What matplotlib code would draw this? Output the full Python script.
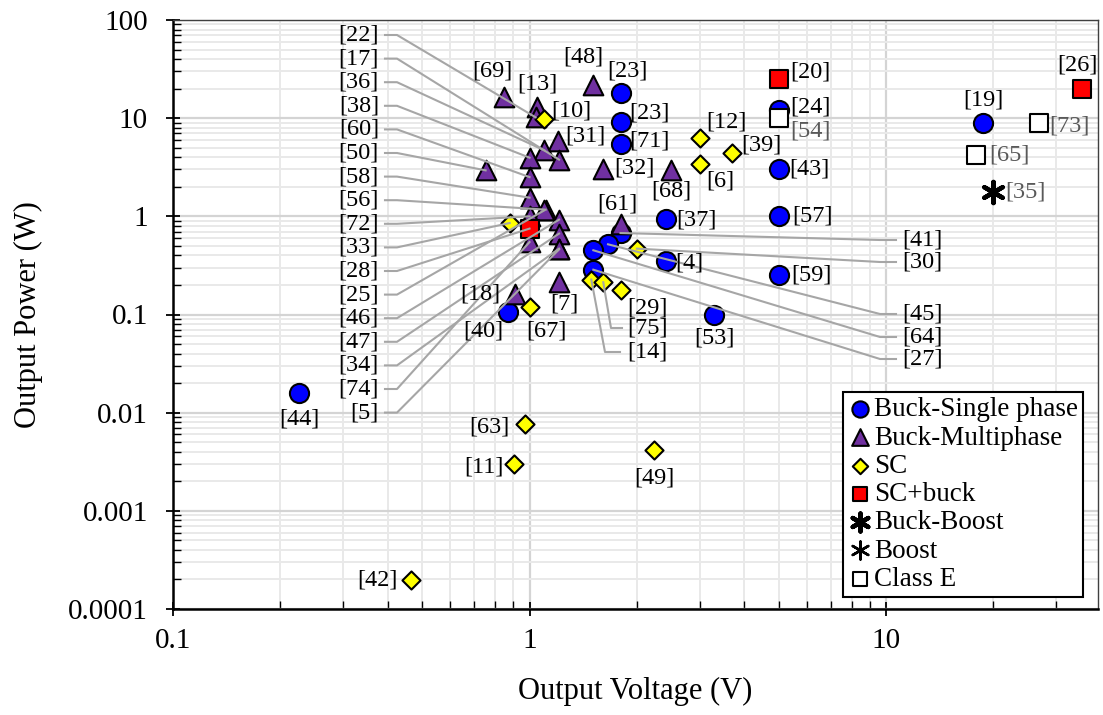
import numpy as np
import matplotlib.pyplot as plt

plt.rcParams['font.family'] = ['Liberation Serif', 'DejaVu Serif']

# ---- data (output voltage V, output power W, reference tag) ----
single_v = [0.226, 0.868, 1.81, 1.81, 1.81, 2.41, 2.41, 3.30, 5.0, 5.0, 5.0, 5.0, 18.7, 1.80, 1.66, 1.51, 1.51]
single_p = [0.0158, 0.106, 18.0, 9.1, 5.5, 0.948, 0.348, 0.0997, 12.0, 3.06, 1.0, 0.25, 9.0, 0.676, 0.519, 0.451, 0.286]
single_ref = ['[44]', '[40]', '[23]', '[23]', '[71]', '[37]', '[4]', '[53]', '[24]', '[43]', '[57]', '[59]', '[19]',
              '[41]', '[45]', '[64]', '[27]']

multi_v = [0.847, 1.05, 1.04, 1.505, 1.20, 1.10, 1.21, 1.0, 0.753, 1.0, 1.0, 1.11, 1.10, 1.0, 1.21, 1.21, 1.21, 1.21,
           1.0, 1.21, 0.908, 1.61, 2.50, 1.80]
multi_p = [16.4, 13.0, 10.2, 21.6, 5.85, 4.7, 3.78, 3.96, 2.94, 2.51, 1.55, 1.17, 1.15, 1.0, 0.925, 0.667, 0.469, 0.46,
           0.547, 0.214, 0.163, 3.06, 2.94, 0.84]
multi_ref = ['[69]', '[13]', '[22]', '[48]', '[31]', '[36]', '[17]', '[38]', '[50]', '[60]', '[58]', '[56]', '[25]',
             '[72]', '[46]', '[47]', '[34]', '[5]', '[74]', '[7]', '[18]', '[32]', '[68]', '[61]']

sc_v = [1.10, 3.0, 3.0, 3.70, 0.88, 2.0, 1.0, 1.49, 1.61, 1.80, 0.974, 0.904, 2.24, 0.464]
sc_p = [9.9, 6.33, 3.38, 4.45, 0.855, 0.469, 0.119, 0.227, 0.213, 0.179, 0.00774, 0.00303, 0.00414, 0.000196]
sc_ref = ['[10]', '[12]', '[6]', '[39]', '[33]', '[30]', '[67]', '[14]', '[75]', '[29]', '[63]', '[11]', '[49]', '[42]']

scbuck_v = [5.0, 35.5, 1.0]
scbuck_p = [24.8, 20.0, 0.75]
scbuck_ref = ['[20]', '[26]', '[28]']

buckboost_v = [19.9]
buckboost_p = [1.77]
buckboost_ref = ['[35]']

boost_v = []
boost_p = []
boost_ref = []

classe_v = [5.0, 26.8, 17.9]
classe_p = [10.1, 9.0, 4.18]
classe_ref = ['[54]', '[73]', '[65]']

yticks = [1e-4, 1e-3, 1e-2, 1e-1, 1, 10, 100]
ytick_labels = ['0.0001', '0.001', '0.01', '0.1', '1', '10', '100']
xticks = [0.1, 1, 10]
xtick_labels = ['0.1', '1', '10']

# ---- layout (pixels in the 1103x715 canvas) ----
W, H = 1103, 715
AX_L, AX_R, AX_T, AX_B = 173, 1098, 20, 609
GRAY_TXT = '#595959'
LEAD = '#a6a6a6'


def frac(px, py):
    return (px - AX_L) / (AX_R - AX_L), (AX_B - py) / (AX_B - AX_T)


fig = plt.figure(figsize=(W / 100, H / 100), dpi=100)
ax = fig.add_axes([AX_L / W, 1 - AX_B / H, (AX_R - AX_L) / W, (AX_B - AX_T) / H])
ax.set_xscale('log')
ax.set_yscale('log')
ax.set_xlim(0.1, 39.3)
ax.set_ylim(1e-4, 100)

ax.grid(which='major', color='#d4d4d4', lw=1.6)
ax.grid(which='minor', color='#e9e9e9', lw=1.4)
ax.set_axisbelow(True)

star = (6, 2, 0)
series = [
    ('Buck-Single phase', single_v, single_p, single_ref, dict(marker='o', s=190, c='#0000ff', edgecolors='black', linewidths=1.5)),
    ('Buck-Multiphase', multi_v, multi_p, multi_ref, dict(marker='^', s=200, c='#7030a0', edgecolors='black', linewidths=1.5)),
    ('SC', sc_v, sc_p, sc_ref, dict(marker='D', s=85, c='#ffff00', edgecolors='black', linewidths=1.5)),
    ('SC+buck', scbuck_v, scbuck_p, scbuck_ref, dict(marker='s', s=160, c='#ff0000', edgecolors='black', linewidths=1.5)),
    ('Buck-Boost', buckboost_v, buckboost_p, buckboost_ref, dict(marker=star, s=230, c='black', linewidths=3.2)),
    ('Boost', boost_v, boost_p, boost_ref, dict(marker=star, s=230, c='black', linewidths=1.8)),
    ('Class E', classe_v, classe_p, classe_ref, dict(marker='s', s=160, c='white', edgecolors='black', linewidths=1.5)),
]

for name, v, p, refs, style in series:
    ax.scatter(v, p, label=name, zorder=3, clip_on=False, **style)

# direct labels: offset in pixels from the point
direct = {
    '[44]': [(0, -26)], '[40]': [(-24, -19)], '[23]': [(6, 22), (28, 9)], '[71]': [(28, 3)],
    '[37]': [(31, -1)], '[4]': [(24, -2)], '[53]': [(0, -23)], '[24]': [(32, 3)], '[43]': [(31, 0)],
    '[57]': [(34, 0)], '[59]': [(33, 0)], '[19]': [(0, 23)],
    '[69]': [(-11, 26)], '[13]': [(0, 23)], '[48]': [(-10, 28)], '[31]': [(28, 5)], '[7]': [(5, -22)],
    '[18]': [(-34, 0)], '[32]': [(31, 1)], '[68]': [(0, -21)], '[61]': [(-3, 20)],
    '[10]': [(27, 8)], '[12]': [(27, 16)], '[6]': [(21, -17)], '[39]': [(29, 8)], '[67]': [(17, -24)],
    '[29]': [(27, -18)], '[63]': [(-36, -3)], '[11]': [(-30, -3)], '[49]': [(0, -28)], '[42]': [(-33, 0)],
    '[20]': [(32, 7)], '[26]': [(-5, 24)], '[54]': [(32, -13)], '[73]': [(31, -3)], '[65]': [(33, 0)],
    '[35]': [(33, 0)],
}
gray_refs = {'[54]', '[73]', '[65]', '[35]'}

left_refs = ['[22]', '[17]', '[36]', '[38]', '[60]', '[50]', '[58]', '[56]', '[72]', '[33]', '[28]', '[25]',
             '[46]', '[47]', '[34]', '[74]', '[5]']
right_refs = {'[41]': 240, '[30]': 262, '[45]': 314, '[64]': 337, '[27]': 359}
below_refs = {'[75]': (611, 328, 622), '[14]': (605, 352, 620)}

to_axes = ax.transData + ax.transAxes.inverted()
FS = 17.5
used = {}
for name, v, p, refs, style in series:
    for xv, yv, ref in zip(v, p, refs):
        tx, ty = to_axes.transform((xv, yv))
        if ref in direct:
            k = used.get(ref, 0)
            used[ref] = k + 1
            dx, dy = direct[ref][k]
            ax.annotate(ref, (xv, yv), xytext=(dx, dy), textcoords='offset pixels', ha='center', va='center',
                        fontsize=FS, color=GRAY_TXT if ref in gray_refs else 'black', zorder=5)
        elif ref in left_refs:
            py = 35 + 23.6 * left_refs.index(ref)
            x0, y0 = frac(385, py)
            x1, _ = frac(397, py)
            ax.plot([x0, x1, tx], [y0, y0, ty], transform=ax.transAxes, color=LEAD, lw=1.5, zorder=4)
            ax.text(frac(379, py)[0], y0, ref, transform=ax.transAxes, ha='right', va='center', fontsize=FS)
        elif ref in right_refs:
            py = right_refs[ref]
            x0, y0 = frac(880, py)
            x1, _ = frac(896, py)
            ax.plot([tx, x0, x1], [ty, y0, y0], transform=ax.transAxes, color=LEAD, lw=1.5, zorder=4)
            ax.text(frac(902, py)[0], y0, ref, transform=ax.transAxes, ha='left', va='center', fontsize=FS)
        elif ref in below_refs:
            ex, py, hx = below_refs[ref]
            x0, y0 = frac(ex, py)
            x1, _ = frac(hx, py)
            ax.plot([tx, x0, x1], [ty, y0, y0], transform=ax.transAxes, color=LEAD, lw=1.5, zorder=4)
            ax.text(frac(627, py)[0], y0, ref, transform=ax.transAxes, ha='left', va='center', fontsize=FS)

ax.set_xticks(xticks, labels=xtick_labels)
ax.set_yticks(yticks, labels=ytick_labels)
ax.tick_params(which='major', direction='inout', length=10, width=1.3, labelsize=21)
ax.tick_params(which='minor', direction='in', length=6, width=1.0)
ax.tick_params(axis='x', which='major', pad=9)
ax.tick_params(axis='y', which='major', pad=13)
ax.yaxis.set_minor_formatter(plt.NullFormatter())
ax.xaxis.set_minor_formatter(plt.NullFormatter())

for side in ['left', 'bottom']:
    ax.spines[side].set_linewidth(1.8)
    ax.spines[side].set_color('black')
for side in ['top', 'right']:
    ax.spines[side].set_linewidth(1.0)
    ax.spines[side].set_color('#404040')

ax.set_xlabel('Output Voltage (V)', fontsize=22, labelpad=16)
ax.set_ylabel('Output Power (W)', fontsize=22, labelpad=18)

leg = ax.legend(loc='lower right', bbox_to_anchor=(0.984, 0.02), borderaxespad=0, fontsize=19.5,
                handletextpad=0.05, handlelength=0.9, borderpad=0.2, labelspacing=0.12,
                fancybox=False, framealpha=1, edgecolor='black', markerscale=0.85)
leg.get_frame().set_linewidth(1.5)
leg.set_zorder(6)

fig.savefig('out.png', dpi=100)
